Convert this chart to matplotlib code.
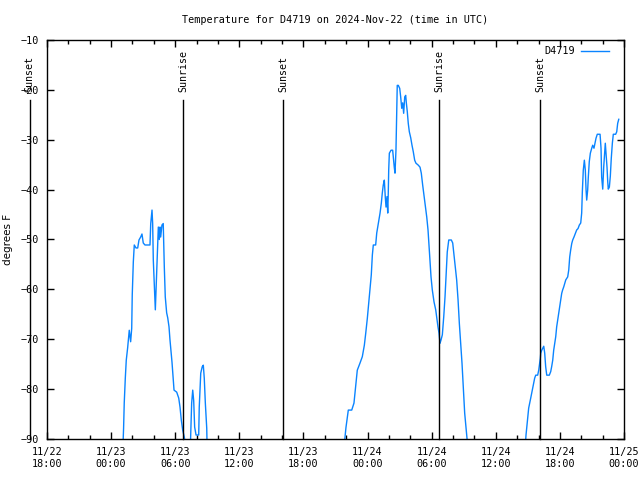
import numpy as np
import pandas as pd
import matplotlib
matplotlib.use("Agg")
import matplotlib.pyplot as plt
import matplotlib.dates as mdates

# hours after 2024-11-22 18:00 UTC, temperature in degrees F
# NaN separates the stretches where the reading is below the plot floor
hours = [
    7.10, 7.17, 7.23, 7.33, 7.42, 7.55, 7.70, 7.83, 7.93, 7.98, 8.08, 8.17,
    8.33, 8.49, 8.61, 8.77, 8.89, 9.01, 9.17, 9.64, 9.71, 9.83, 9.89, 9.95,
    10.14, 10.27, 10.42, 10.51, 10.58, 10.64, 10.76, 10.88, 10.98, 11.07,
    11.20, 11.30, 11.42, 11.51, 11.61, 11.70, 11.79, 11.89, 12.14, 12.33,
    12.45, 12.57, 12.70, 12.85, 13.01,
    13.20,
    13.41, 13.54, 13.64, 13.73, 13.82, 13.95, 14.20, 14.25, 14.32, 14.39,
    14.53, 14.63, 14.72, 14.82, 14.95, 14.99,
    20.00,
    27.78, 27.98, 28.20, 28.52, 28.73, 28.92, 29.04, 29.29, 29.51, 29.70,
    29.83, 29.98, 30.11, 30.23, 30.35, 30.45, 30.54, 30.76, 30.86, 31.01,
    31.17, 31.29, 31.38, 31.47, 31.57, 31.66, 31.73, 31.82, 31.89, 31.94,
    31.98, 32.04, 32.20, 32.35, 32.41, 32.50, 32.57, 32.66, 32.73, 32.78,
    32.88, 33.01, 33.10, 33.20, 33.29, 33.38, 33.48, 33.57, 33.63, 33.72,
    33.81, 33.91, 34.04, 34.16, 34.28, 34.41, 34.53, 34.75, 34.91, 35.03,
    35.16, 35.28, 35.41, 35.54, 35.66, 35.75, 35.85, 35.94, 36.06, 36.22,
    36.38, 36.50, 36.59, 36.69, 36.78, 36.87, 37.00, 37.13, 37.25, 37.34,
    37.46, 37.60, 37.84, 37.97, 38.09, 38.21, 38.34, 38.47, 38.59, 38.72,
    38.84, 38.97, 39.09, 39.21, 39.40,
    42.00,
    44.74, 44.83, 44.92, 45.02, 45.08, 45.18, 45.27, 45.36, 45.46, 45.55,
    45.64, 45.74, 45.92, 46.02, 46.11, 46.17, 46.21, 46.30, 46.39, 46.49,
    46.58, 46.67, 46.77, 47.01, 47.14, 47.23, 47.33, 47.42, 47.52, 47.61,
    47.70, 47.80, 47.89, 47.98, 48.08, 48.17, 48.26, 48.36, 48.45, 48.55,
    48.64, 48.73, 48.83, 48.92, 49.01, 49.11, 49.20, 49.32, 49.44, 49.57,
    49.70, 49.82, 49.95, 50.04, 50.10, 50.19, 50.29, 50.38, 50.45, 50.51,
    50.60, 50.66, 50.75, 50.85, 50.98, 51.07, 51.19, 51.29, 51.38, 51.50,
    51.76, 51.85, 51.91, 52.01, 52.10, 52.20, 52.25, 52.32, 52.41, 52.48,
    52.53, 52.63, 52.72, 52.81, 52.91, 53.00, 53.22, 53.32, 53.41, 53.51,
]
temps = [
    -92.0, -87.8, -82.8, -77.8, -74.2, -71.7, -68.2, -70.5, -67.8, -61.1,
    -54.5, -51.1, -51.7, -51.7, -50.1, -49.5, -48.9, -50.7, -51.1, -51.1,
    -46.8, -44.1, -46.8, -54.1, -64.1, -56.1, -47.5, -50.0, -47.5, -49.5,
    -47.1, -46.8, -55.5, -61.5, -64.7, -65.7, -67.5, -70.1, -72.5, -74.6,
    -77.2, -80.2, -80.6, -81.8, -83.6, -86.2, -88.2, -89.6, -92.0,
    np.nan,
    -92.0, -82.8, -80.2, -82.3, -87.6, -89.2, -89.2, -83.6, -80.2, -76.8,
    -75.5, -75.2, -77.8, -82.8, -87.8, -92.0,
    np.nan,
    -92.0, -87.7, -84.2, -84.2, -82.8, -78.8, -76.2, -74.8, -73.5, -71.2,
    -68.8, -65.8, -62.8, -60.1, -57.1, -53.1, -51.1, -51.1, -48.7, -46.7,
    -44.7, -42.7, -40.7, -39.1, -38.1, -41.5, -43.5, -41.4, -44.7, -40.7,
    -36.1, -32.7, -32.1, -32.1, -33.5, -35.5, -36.7, -32.1, -24.7, -19.1,
    -19.1, -19.7, -21.4, -23.7, -22.6, -24.7, -21.4, -21.1, -22.6, -24.4,
    -26.7, -28.4, -29.6, -31.1, -32.4, -34.1, -34.7, -35.1, -35.5, -36.7,
    -39.1, -41.1, -43.1, -45.5, -48.1, -51.1, -54.7, -57.5, -60.1, -62.5,
    -64.1, -66.1, -67.5, -68.8, -70.8, -70.2, -69.1, -65.5, -61.5, -57.5,
    -52.5, -50.1, -50.1, -50.7, -53.1, -55.7, -58.1, -62.1, -66.8, -70.8,
    -74.8, -80.2, -84.8, -87.6, -92.0,
    np.nan,
    -92.0, -89.2, -87.2, -85.2, -83.8, -82.8, -81.8, -80.8, -79.8, -78.8,
    -77.8, -77.2, -77.2, -76.2, -74.8, -73.8, -72.8, -72.2, -71.8, -71.4,
    -72.8, -75.5, -77.2, -77.2, -76.5, -75.5, -74.2, -72.2, -70.8, -69.5,
    -67.5, -66.1, -64.8, -63.5, -62.1, -60.8, -60.1, -59.5, -58.8, -58.1,
    -57.8, -57.5, -56.1, -53.5, -52.1, -50.8, -50.1, -49.5, -48.8, -48.1,
    -47.8, -47.1, -46.7, -44.7, -40.5, -36.1, -34.1, -36.1, -40.1, -42.1,
    -40.1, -37.5, -34.4, -32.7, -31.7, -31.1, -31.7, -30.7, -29.7, -28.9,
    -28.9, -31.7, -37.5, -39.9, -35.5, -32.4, -30.7, -32.7, -35.5, -38.5,
    -39.9, -39.5, -37.3, -33.7, -30.7, -28.9, -28.9, -28.4, -26.7, -25.9,
]

sun_events = ["Sunset", "Sunrise", "Sunset", "Sunrise", "Sunset"]
sun_times = ["2024-11-22 16:22", "2024-11-23 06:45", "2024-11-23 16:07",
             "2024-11-24 06:41", "2024-11-24 16:08"]

station = "D4719"
start = pd.Timestamp("2024-11-22 18:00")
end = pd.Timestamp("2024-11-25 00:00")

mono = "DejaVu Sans Mono"
times = start + pd.to_timedelta(hours, unit="h")

fig = plt.figure(figsize=(6.4, 4.8), dpi=100)
ax = fig.add_axes([0.0734, 0.0854, 0.9016, 0.8313])

ax.plot(times, temps, color="#0a84ff", lw=1.0, label=station)

for name, t in zip(sun_events, sun_times):
    t = pd.Timestamp(t)
    ax.plot([t, t], [-22, -90], color="black", lw=1.0, clip_on=False)
    ax.text(t, -20.4, name, rotation=90, ha="center", va="bottom",
            family=mono, fontsize=7.2, clip_on=False)

ax.set_xlim(start, end)
ax.set_ylim(-90, -10)
ax.set_yticks(np.arange(-90, -9, 10))

ax.xaxis.set_major_locator(mdates.HourLocator(byhour=[0, 6, 12, 18]))
ax.xaxis.set_minor_locator(mdates.HourLocator(byhour=range(0, 24, 2)))
ax.xaxis.set_major_formatter(mdates.DateFormatter("%m/%d\n%H:%M"))

ax.tick_params(which="both", direction="in", top=True, right=True,
               labelsize=7.3, width=1.0)
ax.tick_params(which="major", length=5, pad=6)
ax.tick_params(which="minor", length=3)
for lab in ax.get_xticklabels() + ax.get_yticklabels():
    lab.set_family(mono)
for s in ax.spines.values():
    s.set_linewidth(1.0)

ax.set_ylabel("degrees F", fontsize=7.5, labelpad=5)
ax.set_title(f"Temperature for {station} on 2024-Nov-22 (time in UTC)",
             family=mono, fontsize=7.3, pad=12)

leg = ax.legend(loc="upper right", bbox_to_anchor=(0.985, 1.0),
                frameon=False, prop={"family": mono, "size": 7.3},
                markerfirst=False, handlelength=2.8,
                borderaxespad=0.2, handletextpad=0.6)

fig.savefig("out.png", dpi=100)
